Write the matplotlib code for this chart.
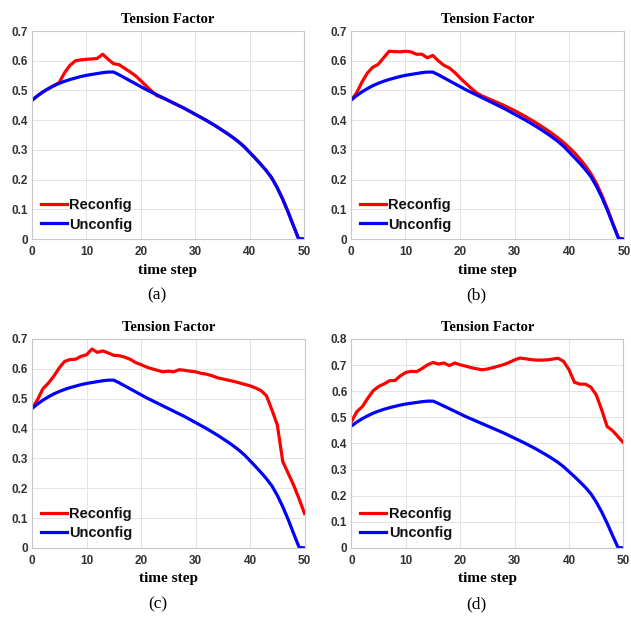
import matplotlib
matplotlib.use('Agg')
import matplotlib.pyplot as plt
import numpy as np

t = list(range(51))

# Unconfig curve (same in all four panels)
unconfig = [0.467, 0.482, 0.495, 0.506, 0.516, 0.524, 0.531, 0.537, 0.542, 0.547,
            0.551, 0.554, 0.557, 0.560, 0.562, 0.562, 0.553, 0.543, 0.533, 0.523,
            0.513, 0.503, 0.494, 0.485, 0.476, 0.467, 0.458, 0.449, 0.440, 0.430,
            0.420, 0.410, 0.400, 0.389, 0.378, 0.366, 0.354, 0.341, 0.327, 0.311,
            0.292, 0.273, 0.253, 0.232, 0.208, 0.176, 0.138, 0.095, 0.048, 0.002,
            0.0]

reconfig_a = [0.467, 0.482, 0.495, 0.506, 0.516, 0.527, 0.560, 0.585, 0.600, 0.603,
              0.605, 0.606, 0.608, 0.622, 0.605, 0.590, 0.587, 0.575, 0.563, 0.550,
              0.533, 0.515, 0.498, 0.482, 0.476, 0.467, 0.458, 0.449, 0.440, 0.430,
              0.420, 0.410, 0.400, 0.389, 0.378, 0.366, 0.354, 0.341, 0.327, 0.311,
              0.292, 0.273, 0.253, 0.232, 0.208, 0.176, 0.138, 0.095, 0.048, 0.002,
              0.0]

reconfig_b = [0.467, 0.490, 0.527, 0.558, 0.578, 0.588, 0.610, 0.632, 0.631, 0.630,
              0.632, 0.630, 0.622, 0.622, 0.610, 0.618, 0.600, 0.585, 0.576, 0.561,
              0.542, 0.525, 0.508, 0.492, 0.482, 0.474, 0.466, 0.458, 0.450, 0.441,
              0.432, 0.422, 0.412, 0.401, 0.390, 0.378, 0.366, 0.353, 0.339, 0.324,
              0.307, 0.289, 0.268, 0.245, 0.218, 0.185, 0.145, 0.100, 0.050, 0.003,
              0.0]

reconfig_c = [0.467, 0.496, 0.533, 0.552, 0.575, 0.603, 0.625, 0.631, 0.632, 0.642,
              0.647, 0.666, 0.655, 0.660, 0.653, 0.645, 0.644, 0.639, 0.632, 0.621,
              0.614, 0.606, 0.600, 0.595, 0.590, 0.592, 0.590, 0.597, 0.595, 0.592,
              0.590, 0.585, 0.582, 0.577, 0.570, 0.566, 0.562, 0.558, 0.553, 0.548,
              0.543, 0.536, 0.527, 0.510, 0.463, 0.412, 0.289, 0.250, 0.210, 0.164,
              0.115]

reconfig_d = [0.484, 0.522, 0.541, 0.573, 0.602, 0.618, 0.628, 0.640, 0.641, 0.659,
              0.672, 0.676, 0.675, 0.687, 0.701, 0.710, 0.704, 0.708, 0.698, 0.708,
              0.701, 0.696, 0.690, 0.686, 0.682, 0.685, 0.690, 0.696, 0.702, 0.710,
              0.720, 0.727, 0.724, 0.721, 0.719, 0.719, 0.720, 0.723, 0.726, 0.714,
              0.682, 0.634, 0.627, 0.627, 0.616, 0.586, 0.529, 0.465, 0.449, 0.426,
              0.403]

panels = [
    ('(a)', reconfig_a, 0.7, [0.0507, 0.615, 0.431, 0.335]),
    ('(b)', reconfig_b, 0.7, [0.556, 0.615, 0.433, 0.335]),
    ('(c)', reconfig_c, 0.7, [0.0507, 0.1176, 0.432, 0.3366]),
    ('(d)', reconfig_d, 0.8, [0.557, 0.1176, 0.431, 0.3366]),
]

fig = plt.figure(figsize=(6.31, 6.21), dpi=100)

for label, red, ymax, rect in panels:
    ax = fig.add_axes(rect)
    ax.plot(t, red, color='#ff0000', lw=2.3, label='Reconfig', solid_joinstyle='round')
    ax.plot(t, unconfig, color='#0000ff', lw=2.3, label='Unconfig', solid_joinstyle='round')
    ax.set_xlim(0, 50)
    ax.set_ylim(0, ymax)
    ax.set_xticks([0, 10, 20, 30, 40, 50])
    ax.set_yticks(np.round(np.arange(0, ymax + 0.01, 0.1), 1))
    ax.set_yticklabels(['0'] + ['%.1f' % v for v in np.arange(0.1, ymax + 0.01, 0.1)])
    ax.grid(True, color='#e4e4e4', lw=0.7)
    ax.set_axisbelow(True)
    for s in ax.spines.values():
        s.set_color('#c8c8c8')
        s.set_linewidth(0.8)
    ax.tick_params(length=0, labelsize=8.5, labelcolor='#333333')
    ax.tick_params(axis='x', pad=5)
    ax.tick_params(axis='y', pad=3)
    for tl in ax.get_xticklabels() + ax.get_yticklabels():
        tl.set_fontweight('bold')
        tl.set_family('Liberation Sans')
    ax.set_title('Tension Factor', fontsize=10.5, fontweight='bold',
                 family='Liberation Serif', pad=6)
    ax.set_xlabel('time step', fontsize=11, fontweight='bold',
                  family='Liberation Serif', labelpad=4)
    leg = ax.legend(loc='lower left', frameon=False, handlelength=1.8,
                    handletextpad=0.15, labelspacing=0.38, borderaxespad=0.2,
                    bbox_to_anchor=(0.0, -0.006),
                    prop={'family': 'Liberation Sans', 'weight': 'bold', 'size': 10.5})
    for txt in leg.get_texts():
        txt.set_color('#111111')
    ax.text(0.46, -0.27, label, transform=ax.transAxes, ha='center', va='center',
            fontsize=12.5, family='Liberation Serif')

fig.savefig('out.png', dpi=100)
